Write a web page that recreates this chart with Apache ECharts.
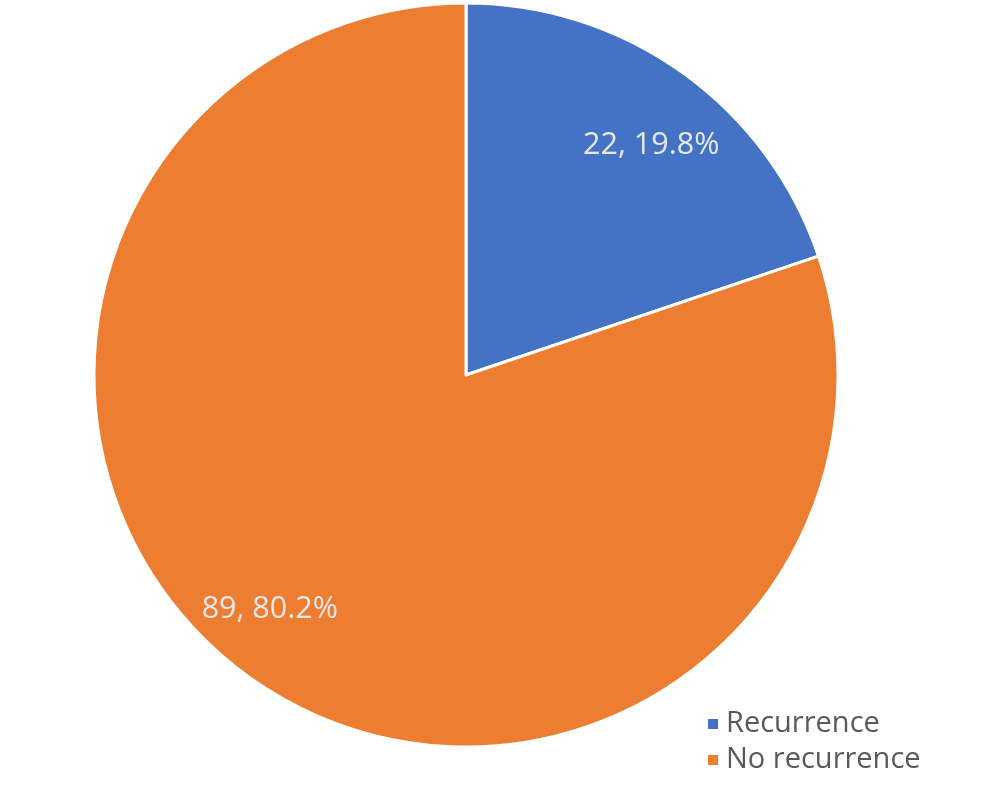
<!DOCTYPE html>
<html>
<head>
<meta charset="utf-8">
<script src="https://cdn.jsdelivr.net/npm/echarts@6/dist/echarts.min.js"></script>
<style>html,body{margin:0;padding:0;background:#fff;}#c{width:986px;height:810px;}</style>
</head>
<body>
<div id="c"></div>
<script>
const categories = ['Recurrence', 'No recurrence'];
const values = [22, 89];
const percents = ['19.8%', '80.2%'];
const colors = ['#4472C4', '#ED7D31'];
const labelOffsets = [[75, -76], [-86, 81]];

const chart = echarts.init(document.getElementById('c'), null, {renderer: 'canvas'});
chart.setOption({
  animation: false,
  backgroundColor: '#ffffff',
  legend: {
    orient: 'vertical',
    left: 701,
    top: 704,
    icon: 'rect',
    itemWidth: 12,
    itemHeight: 12,
    itemGap: 6,
    data: categories,
    textStyle: {fontFamily: 'Open Sans', fontSize: 29, lineHeight: 30, color: '#595959', padding: [0, 0, 0, 2]}
  },
  series: [{
    type: 'pie',
    center: [466, 375],
    radius: [0, 372],
    startAngle: 90,
    clockwise: true,
    avoidLabelOverlap: false,
    itemStyle: {borderColor: '#ffffff', borderWidth: 3},
    label: {
      show: true,
      position: 'inside',
      fontFamily: 'Open Sans',
      fontSize: 30.5,
      color: '#e8e8e8',
      formatter: p => p.value + ', ' + percents[p.dataIndex]
    },
    labelLine: {show: false},
    emphasis: {disabled: true},
    data: categories.map((c, i) => ({
      name: c,
      value: values[i],
      itemStyle: {color: colors[i]},
      label: {offset: labelOffsets[i]}
    }))
  }]
});
</script>
</body>
</html>
